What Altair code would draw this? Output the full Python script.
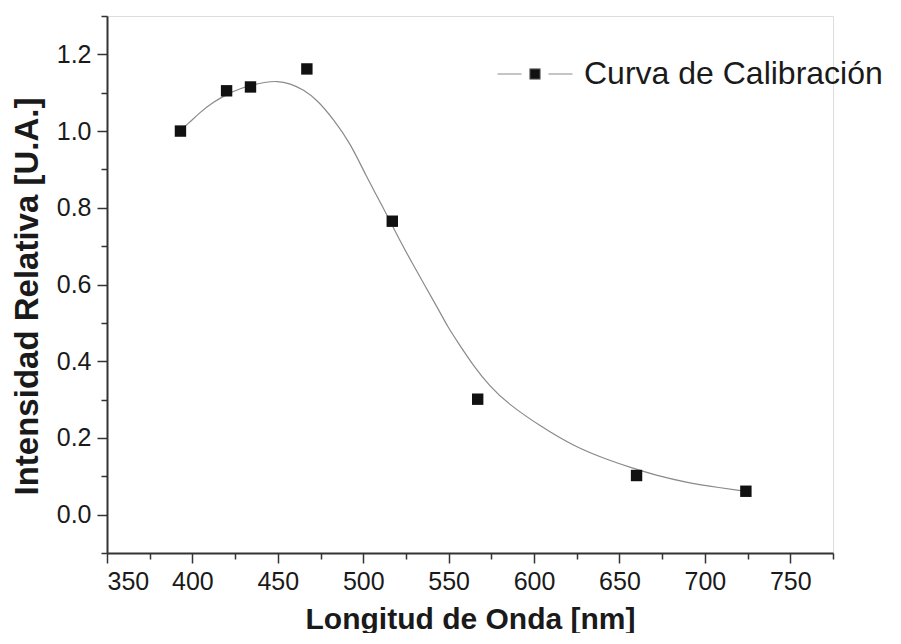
import altair as alt
import pandas as pd

# Measured points (wavelength nm, relative intensity)
point_x = [393, 420, 434, 467, 517, 567, 660, 724]
point_y = [1.000, 1.105, 1.115, 1.162, 0.765, 0.301, 0.102, 0.061]

# Fitted calibration curve
curve_x = [393, 397, 404.5, 412, 420.7, 428, 435.8, 442, 449.5, 457.3, 465, 472.9,
           482.7, 492.4, 502.2, 510, 521.7, 530, 545.2, 549, 556, 564.7, 574,
           584.2, 603.8, 623.3, 642.9, 658.5, 670.3, 689.8, 709.3, 722]
curve_y = [1.003, 1.017, 1.049, 1.075, 1.097, 1.111, 1.121, 1.127, 1.131, 1.124, 1.108, 1.082,
           1.030, 0.969, 0.878, 0.815, 0.712, 0.645, 0.526, 0.493, 0.445, 0.387, 0.335,
           0.291, 0.230, 0.178, 0.143, 0.120, 0.104, 0.083, 0.070, 0.062]

series_name = "Curva de Calibración"
x_ticks = [350, 375, 400, 425, 450, 475, 500, 525, 550, 575, 600, 625, 650, 675, 700, 725, 750, 775]
y_ticks = [-0.1, 0.0, 0.1, 0.2, 0.3, 0.4, 0.5, 0.6, 0.7, 0.8, 0.9, 1.0, 1.1, 1.2, 1.3]

pts = pd.DataFrame({"x": point_x, "y": point_y, "series": [series_name] * len(point_x)})
crv = pd.DataFrame({"x": curve_x, "y": curve_y})

FONT = "Liberation Sans"
AX = "#333333"
TXT = "#1a1a1a"

x_scale = alt.Scale(domain=[350, 775], nice=False, zero=False)
y_scale = alt.Scale(domain=[-0.1, 1.3], nice=False, zero=False)

x_axis = alt.Axis(
    title="Longitud de Onda [nm]",
    values=x_ticks,
    labelExpr="datum.value % 50 === 0 ? datum.label : ''",
    tickSize=alt.condition("datum.value % 50 === 0", alt.value(10), alt.value(6)),
    grid=False,
    domainColor=AX, domainWidth=2, tickColor=AX, tickWidth=1.5,
    labelFont=FONT, labelFontSize=25, labelColor=TXT, labelPadding=6,
    titleFont=FONT, titleFontSize=30, titleFontWeight="bold", titleColor=TXT,
    titlePadding=10,
)
y_axis = alt.Axis(
    title="Intensidad Relativa [U.A.]",
    values=y_ticks,
    labelExpr="(round(datum.value*10) % 2 === 0 && datum.value > -0.05) ? format(datum.value, '.1f') : ''",
    tickSize=alt.condition("round(datum.value*10) % 2 === 0", alt.value(10), alt.value(6)),
    grid=False,
    domainColor=AX, domainWidth=2, tickColor=AX, tickWidth=1.5,
    labelFont=FONT, labelFontSize=25, labelColor=TXT, labelPadding=6,
    titleFont=FONT, titleFontSize=33, titleFontWeight="bold", titleColor=TXT,
    titlePadding=12, titleY=280,
)

line = alt.Chart(crv).mark_line(color="#8a8a8a", strokeWidth=1.2, interpolate="basis").encode(
    x=alt.X("x:Q", scale=x_scale, axis=x_axis),
    y=alt.Y("y:Q", scale=y_scale, axis=y_axis),
)

SYMBOL = "M-1,0H-0.36M0.36,0H1M-0.14,-0.14H0.14V0.14H-0.14Z"

points = alt.Chart(pts).mark_point(shape="square", filled=True, size=130, opacity=1).encode(
    x=alt.X("x:Q", scale=x_scale, axis=x_axis),
    y=alt.Y("y:Q", scale=y_scale, axis=y_axis),
    color=alt.Color(
        "series:N",
        scale=alt.Scale(range=["#111111"]),
        legend=alt.Legend(
            orient="none", legendX=390, legendY=20, title=None,
            symbolType=SYMBOL, symbolSize=5625,
            symbolFillColor="#111111", symbolStrokeColor="#8a8a8a", symbolStrokeWidth=1,
            symbolOpacity=1,
            labelFont=FONT, labelFontSize=32, labelColor=TXT, labelOffset=11,
            padding=0, labelLimit=500,
        ),
    ),
)

chart = (line + points).properties(
    width=726, height=537,
    autosize=alt.AutoSizeParams(type="none"),
    padding={"left": 99, "top": 8, "right": 57, "bottom": 80},
).configure_view(stroke=None).configure(background="white")

chart.save("out.html", embed_options={"renderer": "svg", "actions": False})
